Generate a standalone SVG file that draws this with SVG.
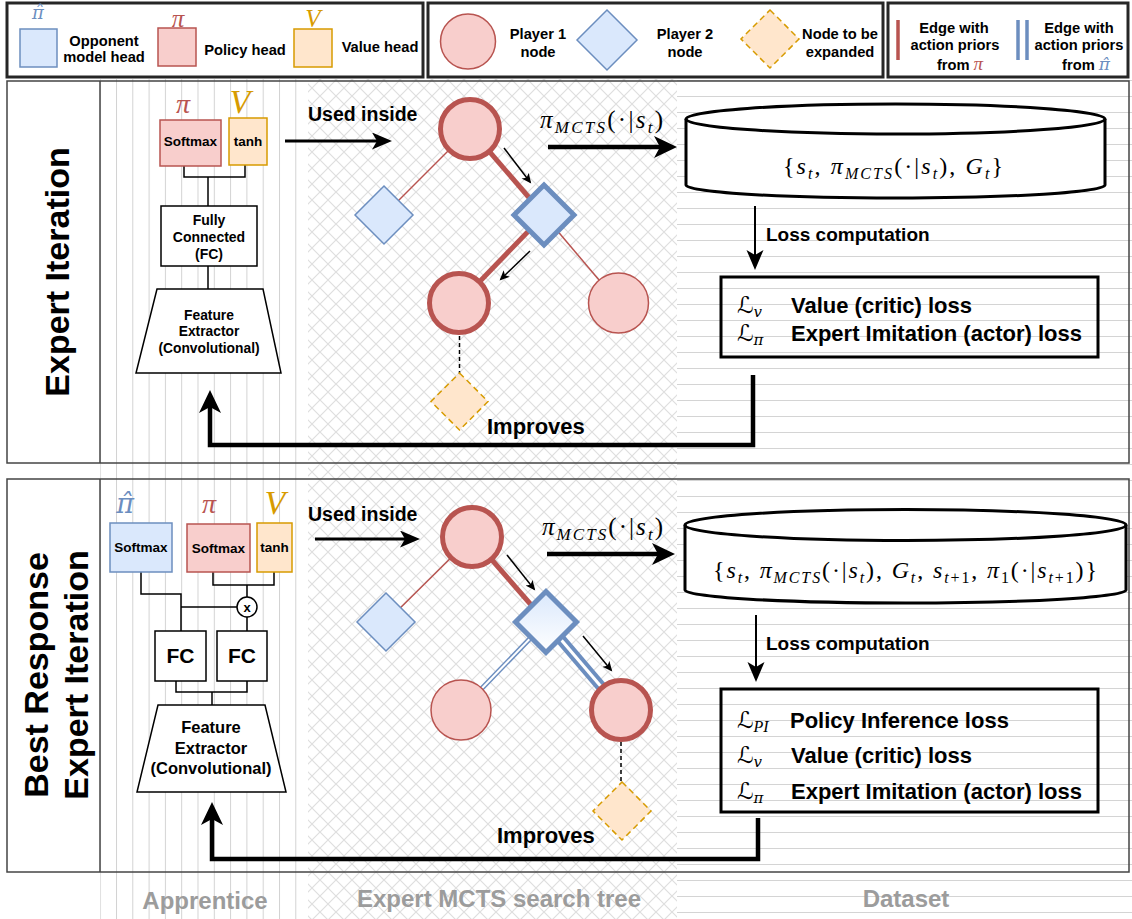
<svg xmlns="http://www.w3.org/2000/svg" width="1132" height="919" viewBox="0 0 1132 919">
<defs>
<style>
.t{font-family:"Liberation Sans",Arial,sans-serif;font-weight:bold;fill:#000}
.lt{font-family:"Liberation Sans",Arial,sans-serif;font-weight:bold;font-size:14.7px;fill:#000;text-anchor:middle}
.m{font-family:"Liberation Serif","DejaVu Serif",serif;font-weight:normal;fill:#000}
.hat{font-family:"DejaVu Serif","Liberation Serif",serif;font-weight:normal;font-style:italic}
.i{font-style:italic}
.cal{font-family:"DejaVu Serif","DejaVu Sans",serif;font-style:italic;fill:#000}
.red{fill:#f8cecc;stroke:#b85450}
.blue{fill:#dae8fc;stroke:#6c8ebf}
.org{fill:#ffe6cc;stroke:#d79b00}
.thin{stroke-width:1.5}
.thick{stroke-width:5}
.dash{stroke-dasharray:6 4;stroke-width:1.5}
.box{fill:#fff;stroke:#000;stroke-width:1.5}
.wire{fill:none;stroke:#000;stroke-width:1.5}
.frame{fill:none;stroke:#444;stroke-width:1.5}
.leg{fill:#fff;stroke:#262626;stroke-width:3}
.foot{font-family:"Liberation Sans",Arial,sans-serif;font-weight:bold;font-size:24px;fill:#9c9c9c;text-anchor:middle}
.big{fill:none;stroke:#000;stroke-linejoin:miter}
</style>
<pattern id="pv" patternUnits="userSpaceOnUse" x="116" y="0" width="16.3" height="20"><rect x="0" y="0" width="1" height="20" fill="#d2d2d2"/></pattern>
<pattern id="px" patternUnits="userSpaceOnUse" x="0" y="0" width="16" height="16"><path d="M-2,-2 L18,18 M18,-2 L-2,18" stroke="#dedede" stroke-width="1.2" fill="none"/></pattern>
<pattern id="ph" patternUnits="userSpaceOnUse" x="0" y="0" width="20" height="16"><rect x="0" y="0" width="20" height="1" fill="#d4d4d4"/></pattern>
<linearGradient id="gd" x1="0" y1="0" x2="0" y2="1"><stop offset="0" stop-color="#dae8fc"/><stop offset="1" stop-color="#ffffff"/></linearGradient>
<marker id="aBig" markerUnits="userSpaceOnUse" markerWidth="24" markerHeight="24" refX="12" refY="11" orient="auto"><path d="M0,0 L23,11 L0,22 L6,11 Z" fill="#000"/></marker>
<marker id="aMid" markerUnits="userSpaceOnUse" markerWidth="21" markerHeight="18" refX="10" refY="8.5" orient="auto"><path d="M0,0 L20,8.5 L0,17 L5,8.5 Z" fill="#000"/></marker>
<marker id="aSm" markerUnits="userSpaceOnUse" markerWidth="12" markerHeight="10" refX="8" refY="4.5" orient="auto"><path d="M0,0 L10,4.5 L0,9 L2.5,4.5 Z" fill="#000"/></marker>
</defs>
<rect x="0" y="0" width="1132" height="919" fill="#fff"/>

<g id="backgrounds">
<rect x="100" y="79" width="208" height="840" fill="url(#pv)"/>
<rect x="308" y="79" width="369" height="840" fill="url(#px)"/>
<rect x="677" y="79" width="455" height="840" fill="url(#ph)"/>
</g>

<g id="panels">
<rect x="7" y="81" width="93" height="382" fill="#fff"/>
<rect x="7" y="81" width="1122" height="382" class="frame"/>
<line x1="100" y1="81" x2="100" y2="463" class="frame"/>
<text class="t" font-size="34" text-anchor="middle" transform="translate(69,272) rotate(-90)">Expert Iteration</text>
<rect x="7" y="479" width="93" height="393" fill="#fff"/>
<rect x="7" y="479" width="1122" height="393" class="frame"/>
<line x1="100" y1="479" x2="100" y2="872" class="frame"/>
<text class="t" font-size="34" text-anchor="middle" transform="translate(48,675) rotate(-90)">Best Response</text>
<text class="t" font-size="34" text-anchor="middle" transform="translate(88,675) rotate(-90)">Expert Iteration</text>
</g>

<g id="legend">
<rect x="7" y="3" width="416" height="74" class="leg"/>
<text class="hat" x="38" y="19" font-size="18" text-anchor="middle" style="fill:#6c8ebf">π̂</text>
<rect x="20" y="29" width="37" height="38" class="blue thin"/>
<text class="lt" x="104" y="46">Opponent</text>
<text class="lt" x="104" y="62">model head</text>
<text class="m i" x="178" y="27" font-size="25" text-anchor="middle" style="fill:#b85450">π</text>
<rect x="158" y="28" width="38" height="38" class="red thin"/>
<text class="lt" x="245" y="55">Policy head</text>
<text class="m i" x="313" y="27" font-size="25" text-anchor="middle" style="fill:#d79b00">V</text>
<rect x="294" y="29" width="38" height="38" class="org thin"/>
<text class="lt" x="380" y="52">Value head</text>

<rect x="428" y="3" width="455" height="74" class="leg"/>
<circle cx="468" cy="41.5" r="27.5" class="red thin"/>
<text class="lt" x="538" y="39">Player 1</text>
<text class="lt" x="538" y="57">node</text>
<polygon points="607,10 637,40 607,70 577,40" class="blue thin"/>
<text class="lt" x="685" y="39">Player 2</text>
<text class="lt" x="685" y="57">node</text>
<polygon points="770,10 799,39 770,68 741,39" class="org dash"/>
<text class="lt" x="840" y="39">Node to be</text>
<text class="lt" x="840" y="57">expanded</text>

<rect x="888" y="3" width="240" height="74" class="leg"/>
<line x1="898" y1="20" x2="898" y2="60" stroke="#b85450" stroke-width="3.5"/>
<text class="lt" x="954" y="33">Edge with</text>
<text class="lt" x="955" y="50">action priors</text>
<text class="lt" x="960" y="70">from <tspan class="m i" font-size="19" style="fill:#b85450">π</tspan></text>
<line x1="1018" y1="20" x2="1018" y2="60" stroke="#6c8ebf" stroke-width="3.5"/>
<line x1="1027" y1="20" x2="1027" y2="60" stroke="#6c8ebf" stroke-width="3.5"/>
<text class="lt" x="1079" y="33">Edge with</text>
<text class="lt" x="1079" y="50">action priors</text>
<text class="lt" x="1086" y="70">from <tspan class="hat" font-size="17" style="fill:#6c8ebf">π̂</tspan></text>
</g>

<g id="connectors">
<line x1="470" y1="129" x2="384" y2="215" stroke="#b85450" stroke-width="1.5"/>
<line x1="470" y1="129" x2="544" y2="215" stroke="#b85450" stroke-width="5"/>
<line x1="544" y1="215" x2="459" y2="303" stroke="#b85450" stroke-width="5"/>
<line x1="544" y1="215" x2="618.5" y2="303" stroke="#b85450" stroke-width="1.5"/>
<line x1="459.5" y1="336" x2="459.5" y2="373" stroke="#000" stroke-width="1.5" stroke-dasharray="4 3"/>
<line x1="504" y1="148" x2="530" y2="182" stroke="#000" stroke-width="1.5" marker-end="url(#aSm)"/>
<line x1="530" y1="251" x2="501" y2="279" stroke="#000" stroke-width="1.5" marker-end="url(#aSm)"/>
<line x1="472" y1="537" x2="386" y2="622" stroke="#b85450" stroke-width="1.5"/>
<line x1="472" y1="537" x2="546" y2="622" stroke="#b85450" stroke-width="5"/>
<line x1="546" y1="622" x2="461" y2="710" stroke="#6c8ebf" stroke-width="5"/>
<line x1="546" y1="622" x2="461" y2="710" stroke="#fff" stroke-width="2"/>
<line x1="546" y1="622" x2="621" y2="710" stroke="#6c8ebf" stroke-width="11"/>
<line x1="546" y1="622" x2="621" y2="710" stroke="#fff" stroke-width="3"/>
<line x1="621" y1="742" x2="621" y2="782" stroke="#000" stroke-width="1.5" stroke-dasharray="4 3"/>
<line x1="507" y1="555" x2="534" y2="589" stroke="#000" stroke-width="1.5" marker-end="url(#aSm)"/>
<line x1="583" y1="636" x2="611" y2="670" stroke="#000" stroke-width="1.5" marker-end="url(#aSm)"/>
<polyline points="184,166 184,177 245,177 245,165" class="wire"/>
<line x1="208" y1="177" x2="208" y2="206" class="wire"/>
<line x1="208" y1="266" x2="208" y2="289" class="wire"/>
<polyline points="141,572 141,594 181,594 181,631" class="wire"/>
<line x1="181" y1="607" x2="237" y2="607" class="wire"/>
<polyline points="213,572 213,585 274,585 274,572" class="wire"/>
<line x1="247" y1="585" x2="247" y2="597" class="wire"/>
<line x1="247" y1="617" x2="247" y2="631" class="wire"/>
<polyline points="176,681 176,692 247,692 247,681" class="wire"/>
<line x1="212" y1="692" x2="212" y2="705" class="wire"/>
<line x1="285" y1="141" x2="382" y2="141" class="big" stroke-width="3" marker-end="url(#aMid)"/>
<line x1="548" y1="147" x2="666" y2="147" class="big" stroke-width="4.5" marker-end="url(#aBig)"/>
<line x1="755" y1="206" x2="755" y2="260" class="big" stroke-width="2" marker-end="url(#aMid)"/>
<polyline points="753,375 753,445 210,445 210,401" class="big" stroke-width="4.5" marker-end="url(#aBig)"/>
<line x1="315" y1="539" x2="410" y2="539" class="big" stroke-width="3" marker-end="url(#aMid)"/>
<line x1="547" y1="554" x2="664" y2="554" class="big" stroke-width="4.5" marker-end="url(#aBig)"/>
<line x1="756" y1="615" x2="756" y2="672" class="big" stroke-width="2" marker-end="url(#aMid)"/>
<polyline points="758,818 758,859 212,859 212,813" class="big" stroke-width="4.5" marker-end="url(#aBig)"/>
</g>

<g id="labels">
<text class="t" x="308" y="121" font-size="19.5">Used inside</text>
<text class="m" x="540" y="128" font-size="25" textLength="123" lengthAdjust="spacing"><tspan class="i">π</tspan><tspan class="i" font-size="17" dy="5">MCTS</tspan><tspan dy="-5">(·|</tspan><tspan class="i">s</tspan><tspan class="i" font-size="17" dy="5">t</tspan><tspan dy="-5">)</tspan></text>
<text class="t" x="766" y="241" font-size="19">Loss computation</text>
<text class="t" x="487" y="434" font-size="22">Improves</text>
<text class="t" x="308" y="521" font-size="19.5">Used inside</text>
<text class="m" x="542" y="535" font-size="25" textLength="121" lengthAdjust="spacing"><tspan class="i">π</tspan><tspan class="i" font-size="17" dy="5">MCTS</tspan><tspan dy="-5">(·|</tspan><tspan class="i">s</tspan><tspan class="i" font-size="17" dy="5">t</tspan><tspan dy="-5">)</tspan></text>
<text class="t" x="766" y="650" font-size="19">Loss computation</text>
<text class="t" x="497" y="843" font-size="22">Improves</text>
<text class="foot" x="205" y="909">Apprentice</text>
<text class="foot" x="499" y="907">Expert MCTS search tree</text>
<text class="foot" x="906" y="907">Dataset</text>
</g>

<g id="t-heads">
<text class="m i" x="183" y="113" font-size="28" text-anchor="middle" style="fill:#b85450">π</text>
<text class="m i" x="240" y="113" font-size="34" text-anchor="middle" style="fill:#d79b00">V</text>
<rect x="160" y="120" width="61" height="46" class="red thin"/>
<text class="t" x="190.5" y="146" font-size="13.5" text-anchor="middle">Softmax</text>
<rect x="229" y="118" width="38" height="47" class="org thin"/>
<text class="t" x="248" y="146" font-size="13.5" text-anchor="middle">tanh</text>
</g>
<g id="t-fc">
<rect x="161" y="206" width="96" height="60" class="box"/>
<text class="t" x="209" y="225" font-size="14" text-anchor="middle">Fully</text>
<text class="t" x="209" y="242" font-size="14" text-anchor="middle">Connected</text>
<text class="t" x="209" y="259" font-size="14" text-anchor="middle">(FC)</text>
</g>
<g id="t-feat">
<polygon points="157,289 263,289 281,373 136,373" class="box"/>
<text class="t" x="209" y="320" font-size="13.8" text-anchor="middle">Feature</text>
<text class="t" x="209" y="336" font-size="13.8" text-anchor="middle">Extractor</text>
<text class="t" x="209" y="353" font-size="13.8" text-anchor="middle">(Convolutional)</text>
</g>

<g id="b-heads">
<text class="hat" x="125" y="513" font-size="27" text-anchor="middle" style="fill:#6c8ebf">π̂</text>
<rect x="110" y="523" width="62" height="49" class="blue thin"/>
<text class="t" x="141" y="552" font-size="13.5" text-anchor="middle">Softmax</text>
<text class="m i" x="209" y="513" font-size="28" text-anchor="middle" style="fill:#b85450">π</text>
<rect x="187" y="524" width="63" height="48" class="red thin"/>
<text class="t" x="218.5" y="553" font-size="13.5" text-anchor="middle">Softmax</text>
<text class="m i" x="275" y="514" font-size="34" text-anchor="middle" style="fill:#d79b00">V</text>
<rect x="257" y="523" width="35" height="49" class="org thin"/>
<text class="t" x="274.5" y="552" font-size="13.5" text-anchor="middle">tanh</text>
</g>
<g id="b-mult">
<circle cx="247" cy="607" r="10" class="box"/>
<text class="t" x="247" y="611.5" font-size="13" text-anchor="middle">x</text>
</g>
<g id="b-fc1">
<rect x="155" y="631" width="51" height="50" class="box"/>
<text class="t" x="180.5" y="663" font-size="21" text-anchor="middle">FC</text>
</g>
<g id="b-fc2">
<rect x="217" y="631" width="50" height="50" class="box"/>
<text class="t" x="242" y="663" font-size="21" text-anchor="middle">FC</text>
</g>
<g id="b-feat">
<polygon points="158,705 265,705 286,792 137,792" class="box"/>
<text class="t" x="211" y="733" font-size="16.5" text-anchor="middle">Feature</text>
<text class="t" x="211" y="754" font-size="16.5" text-anchor="middle">Extractor</text>
<text class="t" x="211" y="774" font-size="16.5" text-anchor="middle">(Convolutional)</text>
</g>

<g id="t-root"><circle cx="470" cy="129" r="29.5" class="red thick"/></g>
<g id="t-p2a"><polygon points="384,186 413,215 384,244 355,215" class="blue thin"/></g>
<g id="t-p2b"><polygon points="544,185 574,215 544,245 514,215" class="blue thick"/></g>
<g id="t-p1a"><circle cx="459" cy="303" r="29.5" class="red thick"/></g>
<g id="t-p1b"><circle cx="618.5" cy="303" r="30" class="red thin"/></g>
<g id="t-exp"><polygon points="459.5,373 488,401.5 459.5,430 431,401.5" class="org dash"/></g>

<g id="b-root"><circle cx="472" cy="537" r="29.5" class="red thick"/></g>
<g id="b-p2a"><polygon points="386,593 415,622 386,651 357,622" class="blue thin"/></g>
<g id="b-p2b"><polygon points="546,591.5 576.5,622 546,652.5 515.5,622" fill="url(#gd)" stroke="#6c8ebf" stroke-width="5"/></g>
<g id="b-p1a"><circle cx="461" cy="710" r="30" class="red thin"/></g>
<g id="b-p1b"><circle cx="621" cy="710" r="29.5" class="red thick"/></g>
<g id="b-exp"><polygon points="622,782 651,811 622,840 593,811" class="org dash"/></g>

<g id="t-data">
<path d="M686,119 L686,185 A209.5,13 0 0 0 1105,185 L1105,119 A209.5,15 0 0 0 686,119 Z" fill="#fff" stroke="#000" stroke-width="3"/>
<path d="M686,119 A209.5,15 0 0 0 1105,119" fill="none" stroke="#000" stroke-width="3"/>
<text class="m" x="783" y="174" font-size="24" textLength="220" lengthAdjust="spacing">{<tspan class="i">s</tspan><tspan class="i" font-size="16" dy="5">t</tspan><tspan dy="-5">, </tspan><tspan class="i">π</tspan><tspan class="i" font-size="16" dy="5">MCTS</tspan><tspan dy="-5">(·|</tspan><tspan class="i">s</tspan><tspan class="i" font-size="16" dy="5">t</tspan><tspan dy="-5">), </tspan><tspan class="i">G</tspan><tspan class="i" font-size="16" dy="5">t</tspan><tspan dy="-5">}</tspan></text>
</g>
<g id="t-loss">
<rect x="721" y="277" width="377" height="80" fill="none" stroke="#000" stroke-width="3"/>
<text class="cal" x="737" y="313" font-size="23">ℒ<tspan font-size="15" dy="4">v</tspan></text>
<text class="t" x="791" y="313" font-size="22">Value (critic) loss</text>
<text class="cal" x="737" y="341" font-size="23">ℒ<tspan font-size="15" dy="4">π</tspan></text>
<text class="t" x="791" y="341" font-size="22">Expert Imitation (actor) loss</text>
</g>
<g id="b-data">
<path d="M685,525 L685,590 A220.5,13 0 0 0 1126,590 L1126,525 A220.5,15.5 0 0 0 685,525 Z" fill="#fff" stroke="#000" stroke-width="3"/>
<path d="M685,525 A220.5,15.5 0 0 0 1126,525" fill="none" stroke="#000" stroke-width="3"/>
<text class="m" x="713" y="578" font-size="24" textLength="384" lengthAdjust="spacing">{<tspan class="i">s</tspan><tspan class="i" font-size="16" dy="5">t</tspan><tspan dy="-5">, </tspan><tspan class="i">π</tspan><tspan class="i" font-size="16" dy="5">MCTS</tspan><tspan dy="-5">(·|</tspan><tspan class="i">s</tspan><tspan class="i" font-size="16" dy="5">t</tspan><tspan dy="-5">), </tspan><tspan class="i">G</tspan><tspan class="i" font-size="16" dy="5">t</tspan><tspan dy="-5">, </tspan><tspan class="i">s</tspan><tspan font-size="16" dy="5"><tspan class="i">t</tspan>+1</tspan><tspan dy="-5">, </tspan><tspan class="i">π</tspan><tspan font-size="16" dy="5">1</tspan><tspan dy="-5">(·|</tspan><tspan class="i">s</tspan><tspan font-size="16" dy="5"><tspan class="i">t</tspan>+1</tspan><tspan dy="-5">)}</tspan></text>
</g>
<g id="b-loss">
<rect x="721" y="689" width="377" height="123" fill="none" stroke="#000" stroke-width="3"/>
<text class="cal" x="737" y="728" font-size="23">ℒ<tspan class="m i" font-size="16" dy="4">PI</tspan></text>
<text class="t" x="790" y="728" font-size="22">Policy Inference loss</text>
<text class="cal" x="737" y="763" font-size="23">ℒ<tspan font-size="15" dy="4">v</tspan></text>
<text class="t" x="791" y="763" font-size="22">Value (critic) loss</text>
<text class="cal" x="737" y="799" font-size="23">ℒ<tspan font-size="15" dy="4">π</tspan></text>
<text class="t" x="791" y="799" font-size="22">Expert Imitation (actor) loss</text>
</g>
</svg>
